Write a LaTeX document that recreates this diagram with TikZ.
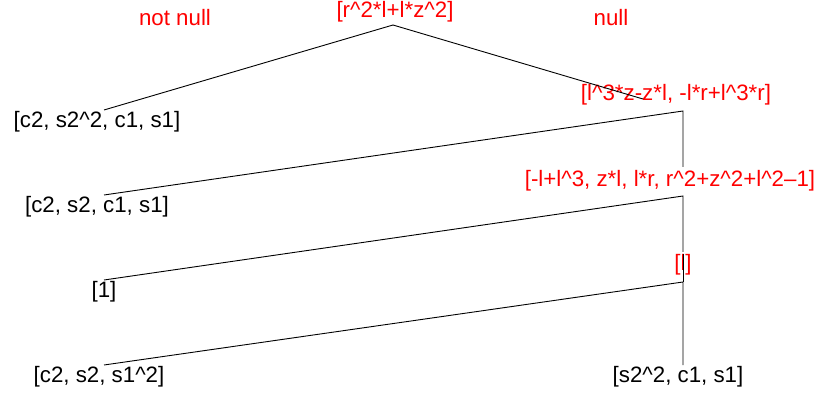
\documentclass[tikz,border=0pt]{standalone}
\usepackage{fontspec}
\setmainfont{Liberation Sans}
\begin{document}
\begin{tikzpicture}[x=1pt,y=-1pt,
  lbl/.style={font=\fontsize{22.3}{25}\selectfont, inner sep=0pt, anchor=center},
  red lbl/.style={lbl, text=red},
  edge/.style={draw=black, line width=0.9pt}]
\useasboundingbox (0,0) rectangle (817,398);
% labels
\node[red lbl] (nn) at (175,18) {not null};
\node[red lbl] (nl) at (611,18) {null};
\node[red lbl] (root) at (395,12) {[r\^{}2*l+l*z\^{}2]};
\node[red lbl] (n1) at (676,95) {[l\^{}3*z-z*l, -l*r+l\^{}3*r]};
\node[red lbl] (n2) at (670,181) {[-l+l\^{}3, z*l, l*r, r\^{}2+z\^{}2+l\^{}2–1]};
\node[red lbl] (n3) at (683,265) {[l]};
\node[lbl] (a) at (97,122) {[c2, s2\^{}2, c1, s1]};
\node[lbl] (b) at (97,207) {[c2, s2, c1, s1]};
\node[lbl] (c) at (104,292) {[1]};
\node[lbl] (d) at (99,377) {[c2, s2, s1\^{}2]};
\node[lbl] (e) at (678,377) {[s2\^{}2, c1, s1]};
% connector points
\coordinate (top) at (393,25);
\coordinate (aT) at (104,110);
\coordinate (rEnd) at (643,99);
\coordinate (k1) at (683,111);
\coordinate (k1b) at (683,167);
\coordinate (bT) at (104,195);
\coordinate (k2) at (683,196);
\coordinate (k2b) at (683,252);
\coordinate (cT) at (104,280);
\coordinate (k3) at (683,282);
\coordinate (dT) at (104,365);
\coordinate (eT) at (683,365);
% edges
\draw[edge] (aT) -- (top) -- (rEnd);
\draw[edge] (bT) -- (k1) -- (k1b);
\draw[edge] (cT) -- (k2) -- (k2b);
\draw[edge] (dT) -- (k3) -- (eT);
\draw[edge] (k3) -- ++(0,-28);
\end{tikzpicture}
\end{document}
